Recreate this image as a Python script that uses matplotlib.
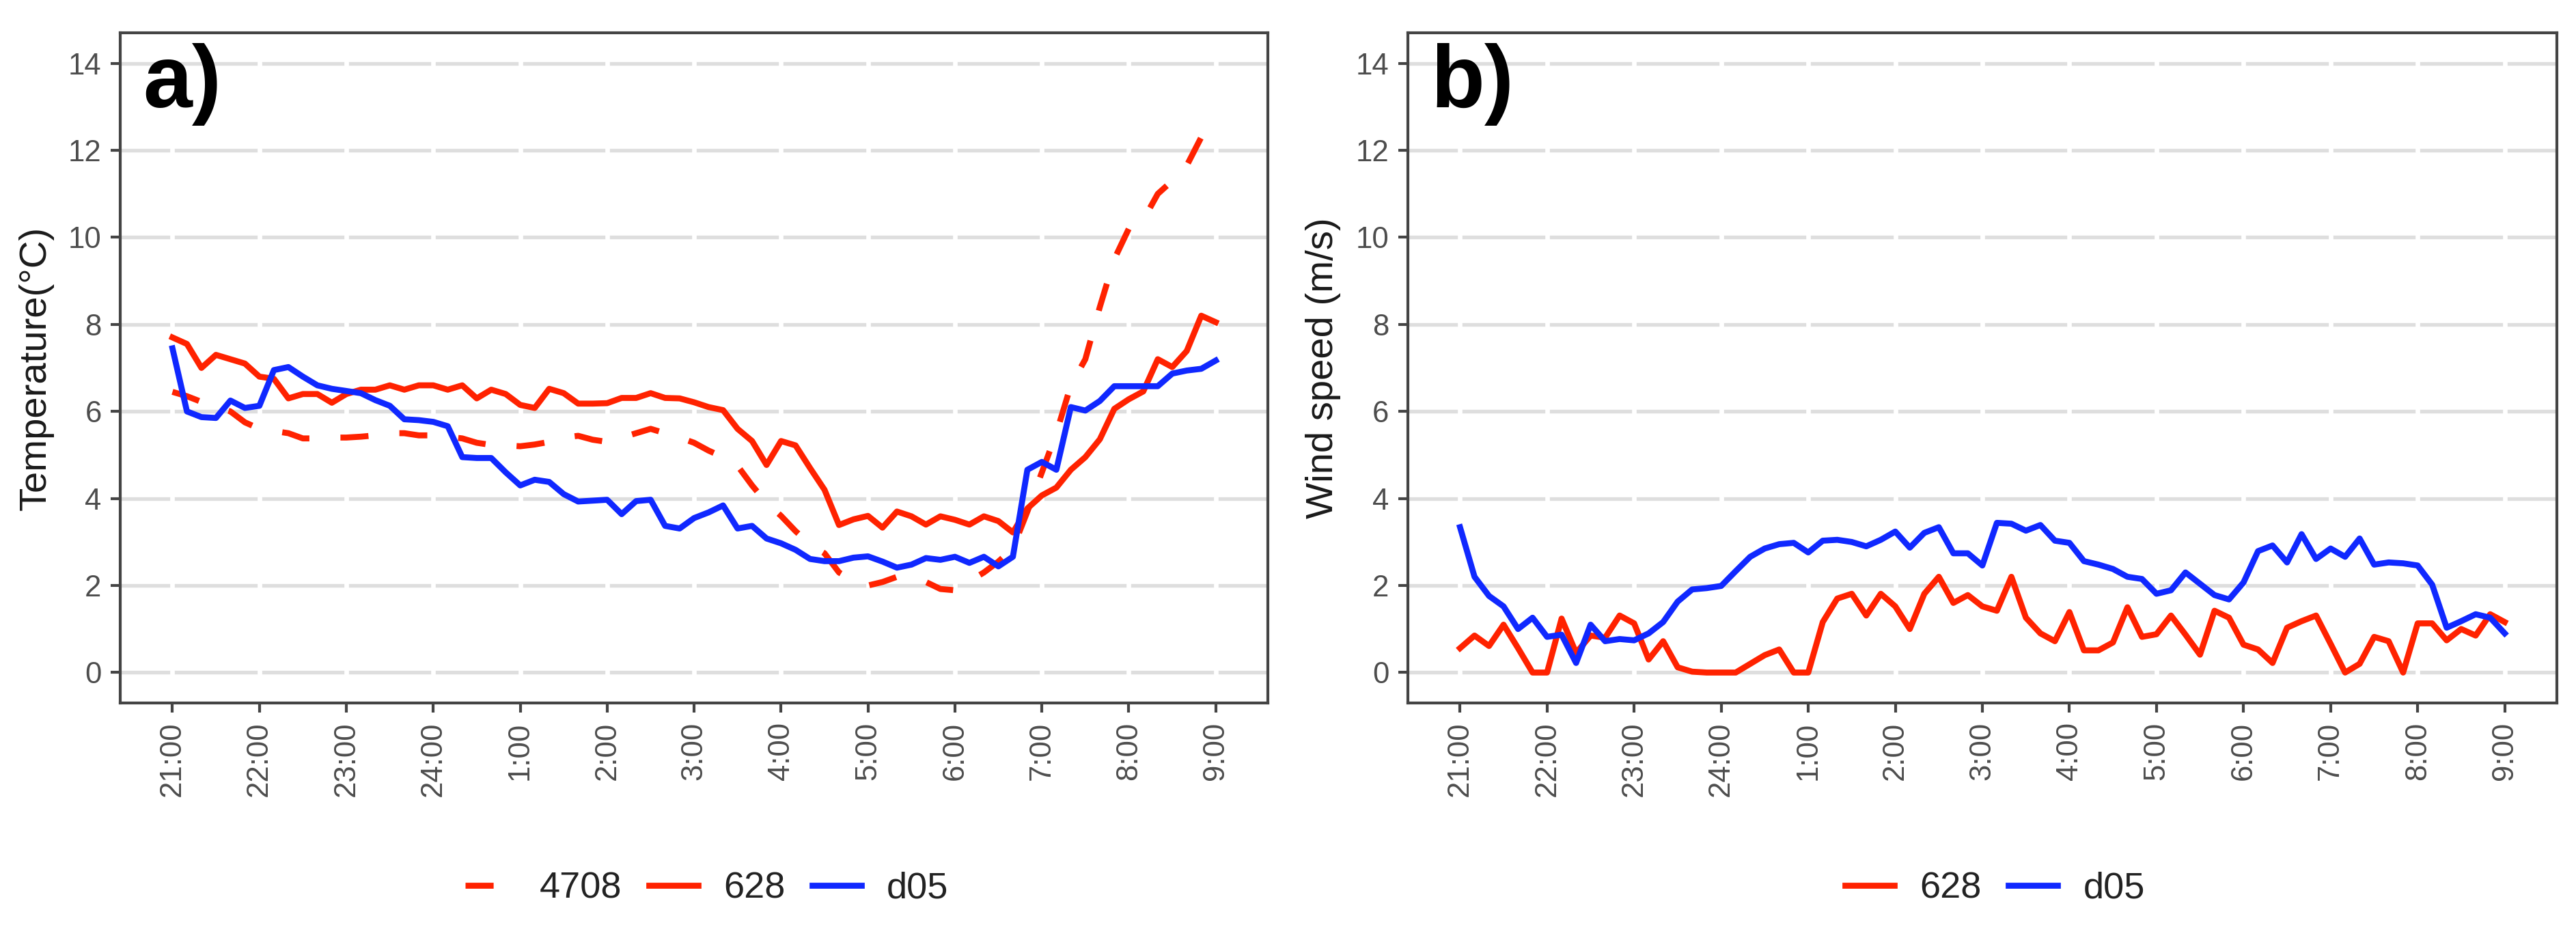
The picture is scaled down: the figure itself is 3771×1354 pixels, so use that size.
"""
plot.py
Night-time temperature and wind speed: station obs (4708, 628) vs WRF d05.
"""

import numpy as np
import matplotlib
matplotlib.use("Agg")
import matplotlib.pyplot as plt

plt.rcParams['font.family'] = ['Liberation Sans', 'DejaVu Sans']

RED  = "#FF2200"
BLUE = "#1028FF"
GRID = "#DEDEDE"
AXC  = "#444444"

hour_labels = ["21:00", "22:00", "23:00", "24:00", "1:00", "2:00", "3:00",
               "4:00", "5:00", "6:00", "7:00", "8:00", "9:00"]

# 10-minute samples, 21:00 -> 9:00
temp_4708 = [6.45, 6.35, 6.22, 6.12, 6.0, 5.75, 5.6, 5.55, 5.5, 5.38,
             5.38, 5.4, 5.4, 5.42, 5.45, 5.5, 5.5, 5.45, 5.45, 5.42,
             5.38, 5.28, 5.23, 5.22, 5.2, 5.24, 5.3, 5.4, 5.44, 5.35,
             5.3, 5.4, 5.5, 5.6, 5.5, 5.4, 5.28, 5.1, 4.95, 4.75,
             4.3, 3.9, 3.6, 3.25, 2.95, 2.74, 2.3, 2.1, 2.0, 2.08,
             2.2, 2.15, 2.08, 1.92, 1.89, 2.1, 2.3, 2.55, 2.85, 3.7,
             4.6, 5.5, 6.6, 7.2, 8.4, 9.5, 10.2, 10.4, 11.0, 11.3,
             11.65, 12.3, 12.7]

temp_628 = [7.7, 7.55, 7.0, 7.3, 7.2, 7.1, 6.8, 6.75, 6.3, 6.4,
            6.4, 6.2, 6.4, 6.5, 6.5, 6.6, 6.5, 6.6, 6.6, 6.5,
            6.6, 6.3, 6.5, 6.4, 6.15, 6.08, 6.52, 6.42, 6.18, 6.18,
            6.19, 6.31, 6.31, 6.42, 6.31, 6.3, 6.21, 6.1, 6.03, 5.6,
            5.32, 4.77, 5.32, 5.22, 4.7, 4.2, 3.39, 3.52, 3.6, 3.33,
            3.7, 3.59, 3.4, 3.59, 3.51, 3.4, 3.59, 3.48, 3.22, 3.77,
            4.07, 4.25, 4.66, 4.95, 5.36, 6.06, 6.28, 6.46, 7.2, 7.02,
            7.39, 8.2, 8.05]

temp_d05 = [7.45, 6.0, 5.87, 5.85, 6.25, 6.08, 6.13, 6.95, 7.02, 6.8,
            6.6, 6.52, 6.47, 6.42, 6.26, 6.13, 5.82, 5.8, 5.76, 5.66,
            4.95, 4.93, 4.93, 4.6, 4.3, 4.43, 4.38, 4.1, 3.93, 3.95,
            3.97, 3.64, 3.94, 3.97, 3.37, 3.31, 3.55, 3.68, 3.84, 3.31,
            3.37, 3.08, 2.97, 2.82, 2.61, 2.56, 2.56, 2.64, 2.67, 2.55,
            2.41, 2.48, 2.63, 2.59, 2.66, 2.52, 2.66, 2.44, 2.66, 4.66,
            4.84, 4.66, 6.1, 6.02, 6.24, 6.58, 6.58, 6.58, 6.58, 6.87,
            6.94, 6.98, 7.17]

wind_628 = [0.56, 0.85, 0.61, 1.1, 0.56, 0.0, 0.0, 1.24, 0.45, 0.85,
            0.8, 1.31, 1.13, 0.3, 0.72, 0.12, 0.02, 0.0, 0.0, 0.0,
            0.2, 0.4, 0.53, 0.0, 0.0, 1.16, 1.7, 1.81, 1.31, 1.81,
            1.52, 1.0, 1.81, 2.2, 1.6, 1.78, 1.52, 1.42, 2.2, 1.26,
            0.9, 0.72, 1.39, 0.51, 0.51, 0.69, 1.5, 0.82, 0.88, 1.31,
            0.87, 0.41, 1.42, 1.26, 0.64, 0.53, 0.22, 1.03, 1.18, 1.31,
            0.66, 0.0, 0.2, 0.82, 0.72, 0.0, 1.13, 1.13, 0.74, 1.0,
            0.85, 1.34, 1.16]

wind_d05 = [3.34, 2.2, 1.76, 1.52, 1.0, 1.26, 0.82, 0.87, 0.22, 1.1,
            0.72, 0.77, 0.74, 0.9, 1.16, 1.63, 1.91, 1.94, 1.99, 2.33,
            2.66, 2.85, 2.95, 2.98, 2.76, 3.03, 3.05, 3.0, 2.9, 3.05,
            3.24, 2.87, 3.21, 3.34, 2.74, 2.74, 2.46, 3.44, 3.42, 3.26,
            3.39, 3.03, 2.98, 2.56, 2.48, 2.38, 2.2, 2.15, 1.81, 1.89,
            2.3, 2.04, 1.78, 1.68, 2.07, 2.79, 2.92, 2.53, 3.18, 2.61,
            2.85, 2.66, 3.08, 2.48, 2.53, 2.51, 2.46, 2.02, 1.03, 1.18,
            1.34, 1.26, 0.9]

x_hours = np.arange(len(temp_628)) / 6.0
hours = np.arange(len(hour_labels))

fig = plt.figure(figsize=(3771 / 300, 1354 / 300), dpi=300, facecolor="white")
ax_a = fig.add_axes([0.0467, 0.2400, 0.4455, 0.7245])
ax_b = fig.add_axes([0.5465, 0.2400, 0.4461, 0.7245])

LW = 2.1
DASH = (4.7, 5.2)

cfg = [
    (ax_a, "a)", "Temperature(°C)",
     [(temp_4708, RED, True, "4708"), (temp_628, RED, False, "628"), (temp_d05, BLUE, False, "d05")]),
    (ax_b, "b)", "Wind speed (m/s)",
     [(wind_628, RED, False, "628"), (wind_d05, BLUE, False, "d05")]),
]

for ax, tag, ylab, series in cfg:
    ax.set_xlim(-0.6, 12.6)
    ax.set_ylim(-0.7, 14.7)
    ax.set_yticks(np.arange(0, 15, 2))
    ax.set_xticks(hours)
    ax.set_xticklabels(hour_labels, rotation=90)

    # grey horizontal grid, broken by white vertical lines at the hour ticks
    for yv in np.arange(0, 15, 2):
        ax.axhline(yv, color=GRID, lw=1.3, zorder=0.5)
    for xv in hours:
        ax.axvline(xv, color="white", lw=1.6, zorder=0.6)

    for yd, color, dashed, lab in series:
        ln, = ax.plot(x_hours, yd, color=color, lw=LW, label=lab, zorder=2,
                      solid_joinstyle="round", dash_capstyle="butt")
        if dashed:
            ln.set_dashes(DASH)

    for sp in ax.spines.values():
        sp.set_edgecolor(AXC)
        sp.set_linewidth(1.0)
    ax.tick_params(colors=AXC, labelcolor="#4D4D4D", labelsize=10.5,
                   length=3.4, width=1.0, pad=3.2)

    ax.set_ylabel(ylab, fontsize=13.5, color="#1A1A1A")
    ax.yaxis.set_label_coords(-0.058, 0.5)

    ax.text(0.02, 0.985, tag, transform=ax.transAxes, ha="left", va="top",
            fontsize=31, fontweight="bold", color="black")

    ax.legend(loc="center", bbox_to_anchor=(0.511, -0.277), ncol=len(series),
              frameon=False, fontsize=13, handlelength=1.33, handletextpad=0.69,
              columnspacing=0.72, labelcolor="#222222")

fig.savefig("out.png", dpi=300, facecolor="white")
